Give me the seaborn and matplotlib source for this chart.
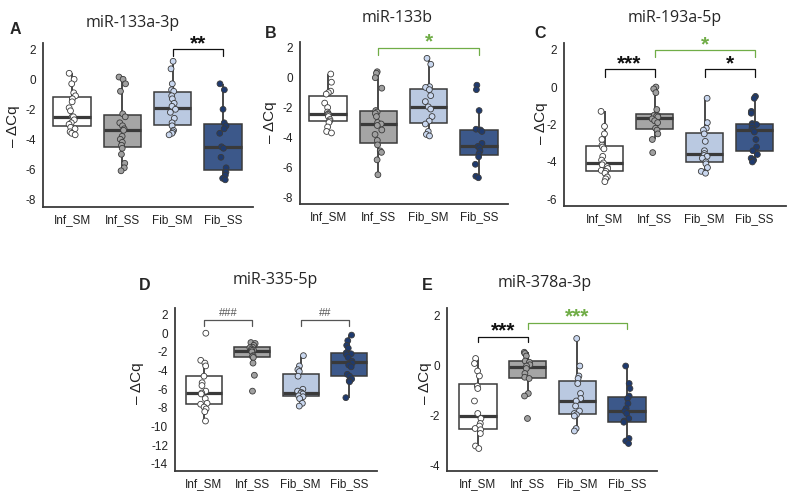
import numpy as np
import pandas as pd
import seaborn as sns
import matplotlib.pyplot as plt

groups = ["Inf_SM", "Inf_SS", "Fib_SM", "Fib_SS"]

# A: miR-133a-3p
a_inf_sm = [0.4, 0.0, -0.3, -0.9, -1.1, -1.3, -1.5, -1.9, -2.1, -2.5, -2.5, -2.7, -2.9, -3.0, -3.2, -3.3, -3.5, -3.6, -3.7]
a_inf_ss = [0.15, 0.0, -0.3, -0.8, -2.3, -2.5, -2.9, -3.1, -3.3, -3.4, -3.8, -4.0, -4.2, -4.4, -4.6, -5.0, -5.6, -5.9, -6.1]
a_fib_sm = [1.2, 0.7, -0.3, -0.7, -0.8, -1.1, -1.3, -1.6, -1.8, -2.0, -2.2, -2.6, -2.9, -3.1, -3.4, -3.5, -3.6, -3.7]
a_fib_ss = [-0.3, -0.7, -2.0, -2.9, -3.1, -3.3, -3.6, -4.5, -4.6, -5.2, -5.9, -6.2, -6.4, -6.6, -6.7]

# B: miR-133b
b_inf_sm = [0.25, -0.3, -0.9, -1.0, -1.1, -1.7, -2.0, -2.3, -2.4, -2.45, -2.5, -2.6, -2.8, -2.9, -3.0, -3.3, -3.6, -3.7]
b_inf_ss = [0.4, 0.3, 0.0, -0.7, -2.2, -2.3, -2.4, -2.6, -3.0, -3.1, -3.2, -3.5, -3.8, -4.2, -4.5, -4.9, -5.0, -5.5, -6.5]
b_fib_sm = [1.3, 0.9, -0.6, -0.65, -0.8, -1.2, -1.6, -1.95, -2.1, -2.6, -2.9, -3.1, -3.6, -3.8, -3.9]
b_fib_ss = [-0.5, -0.8, -2.2, -3.45, -3.5, -3.6, -4.4, -4.6, -4.7, -4.9, -5.1, -5.3, -5.8, -6.6, -6.7]

# C: miR-193a-5p
c_inf_sm = [-1.3, -2.1, -2.5, -2.8, -3.1, -3.2, -3.3, -3.7, -3.9, -4.05, -4.15, -4.25, -4.35, -4.45, -4.5, -4.6, -4.8, -4.9, -5.05]
c_inf_ss = [0.0, -0.1, -0.3, -1.2, -1.5, -1.52, -1.55, -1.6, -1.7, -1.8, -1.9, -2.2, -2.3, -2.5, -2.8, -3.5]
c_fib_sm = [-0.6, -1.9, -2.2, -2.3, -2.5, -2.9, -3.4, -3.55, -3.65, -3.7, -3.8, -4.0, -4.1, -4.3, -4.5, -4.6]
c_fib_ss = [-0.5, -0.6, -1.3, -1.4, -1.95, -2.0, -2.05, -2.2, -2.3, -2.4, -2.8, -3.2, -3.4, -3.6, -3.8, -3.9, -4.0]

# D: miR-335-5p
d_inf_sm = [0.0, -2.9, -3.2, -3.5, -4.6, -5.3, -5.6, -6.2, -6.4, -6.5, -7.0, -7.5, -7.6, -7.9, -8.1, -8.4, -9.4]
d_inf_ss = [-1.0, -1.1, -1.3, -1.5, -1.55, -1.7, -1.8, -1.85, -2.0, -2.4, -2.5, -2.6, -3.2, -4.5, -6.2]
d_fib_sm = [-2.4, -3.5, -3.9, -4.1, -4.6, -6.0, -6.2, -6.35, -6.4, -6.5, -6.7, -6.8, -7.0, -7.5, -7.8]
d_fib_ss = [-0.2, -0.8, -1.3, -1.6, -2.1, -2.2, -2.3, -2.6, -3.0, -3.2, -3.4, -3.6, -4.4, -4.6, -4.9, -5.1, -5.2, -6.9]

# E: miR-378a-3p
e_inf_sm = [0.3, 0.1, -0.2, -0.4, -0.8, -0.9, -1.4, -1.9, -2.1, -2.3, -2.4, -2.5, -2.55, -2.7, -3.2, -3.3]
e_inf_ss = [0.55, 0.5, 0.4, 0.2, 0.15, 0.05, 0.0, -0.1, -0.3, -0.45, -0.5, -1.1, -1.2, -2.1]
e_fib_sm = [1.1, 0.0, -0.4, -0.5, -0.7, -1.1, -1.3, -1.4, -1.6, -1.8, -1.9, -1.95, -2.0, -2.5, -2.6]
e_fib_ss = [0.0, -0.7, -0.9, -1.2, -1.3, -1.5, -1.7, -1.8, -1.9, -2.1, -2.2, -2.25, -2.9, -3.0, -3.1]

# significance brackets: (from group, to group, height, drop, label, colour)
BLACK, GREEN, GREY = "#111111", "#70ad47", "#555555"
a_sig = [(2, 3, 2.0, 0.45, "**", BLACK)]
b_sig = [(1, 3, 2.0, 0.45, "*", GREEN)]
c_sig = [(0, 1, 0.95, 0.4, "***", BLACK), (2, 3, 0.95, 0.4, "*", BLACK), (1, 3, 1.96, 0.36, "*", GREEN)]
d_sig = [(0, 1, 1.38, 0.65, "###", GREY), (2, 3, 1.38, 0.65, "##", GREY)]
e_sig = [(0, 1, 1.17, 0.22, "***", BLACK), (1, 3, 1.73, 0.25, "***", GREEN)]

box_colors = ["#ffffff", "#a5a5a5", "#b4c7e7", "#2f5597"]
point_colors = ["#ffffff", "#a0a0a0", "#c9d7ef", "#1f3a6e"]
LINE = "#3a3a3a"

W, H = 790, 499


def px_rect(left, right, top, bottom):
    return [left / W, 1 - bottom / H, (right - left) / W, (bottom - top) / H]


def to_frame(values):
    rows = [(g, v) for g, vals in zip(groups, values) for v in vals]
    return pd.DataFrame(rows, columns=["group", "dcq"])


def draw_panel(fig, rect, values, xlim, ylim, yticks, sig, seed):
    ax = fig.add_axes(rect)
    df = to_frame(values)
    sns.boxplot(data=df, x="group", y="dcq", hue="group", order=groups, hue_order=groups,
                palette=box_colors, width=0.75, whis=1.5, fliersize=0, linewidth=1.1,
                linecolor=LINE, showcaps=False, medianprops={"linewidth": 2.3},
                whiskerprops={"linewidth": 1.3}, legend=False, ax=ax)
    np.random.seed(seed)
    sns.stripplot(data=df, x="group", y="dcq", hue="group", order=groups, hue_order=groups,
                  palette=point_colors, jitter=0.07, size=4.2, edgecolor=LINE, linewidth=0.6,
                  legend=False, ax=ax)
    for x1, x2, y, drop, label, color in sig:
        ax.plot([x1, x1, x2, x2], [y - drop, y, y, y - drop], color=color, lw=0.9, clip_on=False)
        small = label.startswith("#")
        ax.annotate(label, ((x1 + x2) / 2, y), xytext=(0, 5 if small else 4),
                    textcoords="offset points", ha="center", va="center", color=color,
                    fontsize=8 if small else 15, fontweight="normal" if small else "bold",
                    annotation_clip=False)
    ax.set_xlim(*xlim)
    ax.set_ylim(*ylim)
    ax.set_yticks(yticks)
    ax.set_xlabel("")
    ax.set_ylabel("")
    ax.tick_params(axis="both", labelsize=8.5, length=3, width=1, color=LINE, labelcolor="#222222", pad=2)
    sns.despine(ax=ax)
    for side in ["left", "bottom"]:
        ax.spines[side].set_color(LINE)
        ax.spines[side].set_linewidth(1.3)
    return ax


sns.set_style("white")
plt.rcParams["font.family"] = ["Liberation Sans", "DejaVu Sans"]
plt.rcParams["axes.unicode_minus"] = False

fig = plt.figure(figsize=(7.9, 4.99), dpi=100)

panels = [
    ("A", "miR-133a-3p", [a_inf_sm, a_inf_ss, a_fib_sm, a_fib_ss], px_rect(43, 253, 43.3, 206.8),
     (-0.58, 3.6), (-8.5, 2.4), [2, 0, -2, -4, -6, -8], a_sig, (15, 30), (133, 23), (13, 126)),
    ("B", "miR-133b", [b_inf_sm, b_inf_ss, b_fib_sm, b_fib_ss], px_rect(300, 508, 41.9, 204),
     (-0.56, 3.58), (-8.46, 2.4), [2, 0, -2, -4, -6, -8], b_sig, (271, 33), (397, 18), (270, 122)),
    ("C", "miR-193a-5p", [c_inf_sm, c_inf_ss, c_fib_sm, c_fib_ss], px_rect(564, 786, 43, 206),
     (-0.81, 3.63), (-6.35, 2.35), [2, 0, -2, -4, -6], c_sig, (540, 33), (675, 18), (541, 123)),
    ("D", "miR-335-5p", [d_inf_sm, d_inf_ss, d_fib_sm, d_fib_ss], px_rect(175, 377, 308, 471),
     (-0.6, 3.58), (-14.75, 2.7), list(range(2, -15, -2)), d_sig, (145, 285), (275, 280), (137, 383)),
    ("E", "miR-378a-3p", [e_inf_sm, e_inf_ss, e_fib_sm, e_fib_ss], px_rect(447, 657, 308, 471),
     (-0.62, 3.6), (-4.2, 2.32), [2, 0, -2, -4], e_sig, (427, 285), (545, 283), (425, 383)),
]

for i, (letter, title, values, rect, xlim, ylim, yticks, sig, lpos, tpos, ypos) in enumerate(panels):
    draw_panel(fig, rect, values, xlim, ylim, yticks, sig, seed=7 + i)
    fig.text(lpos[0] / W, 1 - lpos[1] / H, letter, fontsize=11.5, fontweight="bold",
             ha="center", va="center")
    fig.text(tpos[0] / W, 1 - tpos[1] / H, title, fontsize=11.5, family=["Open Sans", "DejaVu Sans"],
             ha="center", va="center")
    fig.text(ypos[0] / W, 1 - ypos[1] / H, "\u2013 \u0394Cq", fontsize=11, rotation=90,
             ha="center", va="center", color="#222222")

fig.savefig("out.png", dpi=100)
